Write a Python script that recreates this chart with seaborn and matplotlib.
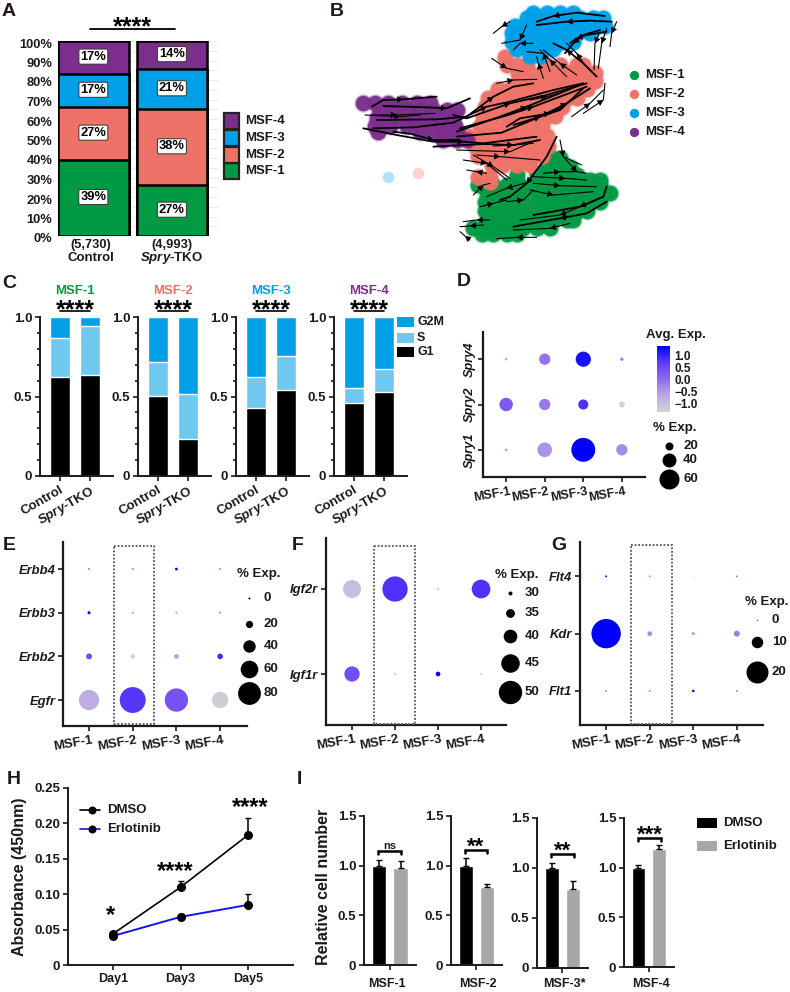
import matplotlib
matplotlib.use('Agg')
import matplotlib.pyplot as plt
import matplotlib.transforms as mtrans
from matplotlib.cm import ScalarMappable
from matplotlib.colors import LinearSegmentedColormap, Normalize
from matplotlib.patches import Rectangle
import numpy as np
import pandas as pd
import seaborn as sns

# ---- data ----
clusters = ['MSF-1', 'MSF-2', 'MSF-3', 'MSF-4']
groups = ['Control', 'Spry-TKO']

# A: composition, percent, bottom to top
comp_control = [39, 27, 17, 17]
comp_tko = [26, 39, 20.5, 14.5]
comp_label_control = ['39%', '27%', '17%', '17%']
comp_label_tko = ['27%', '38%', '21%', '14%']

# B: embedding, one row of points per y level
umap_green = {475: [695, 720], 500: [680, 720, 750], 525: [590, 650, 690, 730, 770], 540: [810, 840],
              555: [475, 520, 560, 600, 640, 680, 720, 760, 800, 840],
              578: [500, 530, 570, 610, 650, 690, 730, 770, 810, 850, 870],
              605: [495, 530, 570, 610, 650, 690, 730, 770, 810, 840],
              632: [495, 530, 570, 610, 650, 690, 730, 770, 800],
              660: [505, 540, 580, 620, 660, 700, 740, 760],
              683: [460, 490, 530, 570, 610, 650, 690],
              703: [485, 520, 560, 590]}
umap_red = {172: [555], 195: [560, 590, 620, 680, 720, 770, 790],
            218: [595, 630, 670, 710, 750, 790, 825],
            243: [595, 630, 670, 710, 750, 790, 825],
            268: [535, 570, 610, 650, 690, 730, 770, 800],
            293: [505, 540, 580, 620, 660, 700, 740, 770],
            320: [495, 530, 570, 610, 650, 690, 725],
            348: [490, 520, 560, 600, 640, 680, 705],
            378: [480, 520, 560, 600, 640, 665],
            408: [445, 480, 520, 560, 600, 640, 680],
            438: [465, 500, 540, 580, 620, 660, 685],
            468: [475, 510, 550, 590, 630, 665],
            495: [515, 550, 590, 630], 530: [475, 510], 545: [510]}
umap_blue = {38: [640, 680, 720, 760], 55: [620, 660, 700, 740, 780, 820, 850],
             78: [585, 630, 670, 710, 750, 790, 830, 855],
             100: [575, 610, 650, 690, 730, 770, 810],
             125: [575, 610, 650, 690, 730, 760],
             148: [590, 630, 670, 700], 168: [630, 660]}
umap_purple = {310: [128, 165, 205, 245, 290, 330],
               330: [180, 220, 260, 300, 340, 380, 410],
               355: [170, 200, 240, 280, 320, 360, 400],
               378: [165, 210, 260, 300, 340, 380, 405], 395: [175, 300, 340, 380, 410],
               420: [370, 410, 440]}
stray_x = [293, 205]
stray_y = [518, 532]

# velocity streamlines in embedding units, listed along the flow
streams = [
    [(855, 48), (770, 38), (700, 48), (650, 65)], [(875, 65), (810, 62), (740, 65), (650, 75)],
    [(890, 65), (875, 100), (870, 140)], [(860, 85), (845, 130), (835, 205)],
    [(840, 95), (825, 130), (822, 210)], [(860, 95), (800, 105), (770, 115), (750, 130)],
    [(840, 90), (790, 105), (760, 130), (735, 160)], [(830, 230), (790, 190), (740, 150), (700, 130)],
    [(795, 195), (770, 160), (740, 130)], [(770, 225), (720, 190), (670, 150)],
    [(740, 230), (690, 180), (660, 150)], [(670, 235), (655, 190), (650, 170)],
    [(690, 215), (670, 160), (620, 155)], [(620, 75), (600, 120), (545, 130)],
    [(570, 65), (545, 80), (520, 100)], [(640, 130), (600, 130), (580, 150)],
    [(515, 175), (560, 205), (610, 215)], [(530, 250), (580, 240), (650, 238)],
    [(155, 320), (190, 300), (250, 298), (350, 290)], [(190, 318), (320, 322), (380, 325), (450, 295)],
    [(155, 345), (230, 345), (345, 340)], [(135, 345), (240, 350), (300, 345)],
    [(170, 360), (350, 358), (440, 350), (520, 290), (580, 260), (640, 250)],
    [(160, 385), (280, 382), (400, 368), (500, 320), (570, 305), (700, 270), (790, 250)],
    [(220, 395), (275, 402), (340, 420), (420, 420)],
    [(130, 385), (230, 405), (340, 425), (430, 425), (490, 430), (650, 410)],
    [(340, 440), (490, 432), (580, 435), (660, 420)],
    [(400, 345), (440, 355), (570, 310), (680, 285), (800, 250)],
    [(410, 395), (540, 350), (620, 320), (780, 255)],
    [(410, 410), (545, 398), (660, 350), (720, 330), (790, 265)],
    [(420, 385), (565, 345), (640, 320), (800, 260)],
    [(560, 380), (600, 355), (690, 340), (730, 320)], [(580, 375), (660, 350), (740, 310), (810, 265)],
    [(630, 300), (680, 290), (720, 280)], [(410, 450), (570, 455), (650, 420)],
    [(470, 465), (540, 470), (660, 480)], [(430, 480), (500, 490), (560, 540)],
    [(460, 465), (520, 500), (570, 535)], [(520, 438), (580, 435), (640, 430)],
    [(755, 350), (810, 310), (850, 270)], [(790, 340), (850, 300), (855, 250)],
    [(710, 410), (680, 470), (620, 550), (570, 590), (540, 600)], [(720, 420), (730, 470), (785, 495)],
    [(730, 470), (770, 515), (800, 520)], [(670, 520), (720, 515), (770, 515)],
    [(640, 530), (735, 535), (800, 540)], [(640, 550), (720, 557), (830, 560)],
    [(630, 570), (700, 585), (820, 575)], [(860, 560), (850, 590), (780, 620), (640, 645)],
    [(860, 605), (800, 640), (720, 655), (580, 680)], [(830, 600), (720, 645), (600, 660)],
    [(750, 670), (690, 685), (580, 690)], [(650, 712), (590, 712), (530, 716)],
    [(510, 660), (470, 660), (430, 665)], [(490, 675), (450, 678), (420, 680)],
    [(450, 720), (435, 708), (420, 695)], [(500, 520), (470, 515), (440, 510)],
    [(460, 585), (490, 555), (510, 550)], [(480, 620), (520, 610), (560, 600)],
    [(630, 545), (560, 565), (500, 590)], [(560, 605), (610, 600), (640, 570)],
]

# C: cell cycle fractions per cluster
phase_g1 = [[0.62, 0.635], [0.505, 0.235], [0.425, 0.54], [0.46, 0.53]]
phase_s = [[0.245, 0.31], [0.215, 0.28], [0.195, 0.215], [0.095, 0.145]]
phase_g2m = [[0.135, 0.055], [0.28, 0.485], [0.38, 0.245], [0.445, 0.325]]

# D to G: % expressed and average expression, rows bottom to top
spry_genes = ['Spry1', 'Spry2', 'Spry4']
spry_pct = [[2, 42, 73, 31], [38, 31, 27, 13], [2, 31, 44, 4]]
spry_avg = [[-0.5, -0.45, 1.375, -0.35], [0.25, -0.15, 0.8, -1.375], [-0.6, -0.1, 1.2, -0.2]]
erbb_genes = ['Egfr', 'Erbb2', 'Erbb3', 'Erbb4']
erbb_pct = [[70, 92, 82, 55], [15, 10, 10, 14], [4, 1, 1, 1], [1, 1, 3, 1]]
erbb_avg = [[-0.75, 0.75, 0.35, -1.25], [0.45, -1.375, -0.55, 0.85],
            [1.375, -0.65, -0.65, -0.5], [-0.5, -0.4, 1.375, -0.6]]
igf_genes = ['Igf1r', 'Igf2r']
igf_pct = [[41.7, 28.6, 30.7, 27.6], [44.5, 52, 28.6, 45.2]]
igf_avg = [[0.4, -1.375, 1.375, -0.9], [-1.0, 0.8, -1.375, 0.8]]
vegf_genes = ['Flt1', 'Kdr', 'Flt4']
vegf_pct = [[1, 1, 1.5, 1], [27, 3.5, 2, 4.8], [1, 1, 0.3, 1]]
vegf_avg = [[-0.4, -0.4, 1.375, -0.4], [1.375, -0.35, -0.5, -0.2], [1.1, -0.5, -1.375, -0.3]]

# H: absorbance
days = ['Day1', 'Day3', 'Day5']
dmso_abs = [0.044, 0.11, 0.184]
dmso_abs_err = [0.003, 0.008, 0.023]
erlo_abs = [0.041, 0.068, 0.085]
erlo_abs_err = [0.002, 0.004, 0.015]

# I: relative cell number
dmso_rel = [1.0, 1.0, 1.0, 1.0]
dmso_rel_err = [0.06, 0.08, 0.05, 0.03]
erlo_rel = [0.975, 0.79, 0.79, 1.19]
erlo_rel_err = [0.07, 0.03, 0.08, 0.04]
rel_names = ['MSF-1', 'MSF-2', 'MSF-3*', 'MSF-4']
rel_marks = ['ns', '**', '**', '***']

# ---- style ----
GREEN, RED, BLUE, PURPLE = '#009944', '#EE7268', '#00A0E9', '#7B2E8C'
CYCLE_COLORS = ['#000000', '#6FC9EF', '#00A0E9']
GREY = '#A7A7AB'
INK = '#1A1A1A'
W, H = 790, 992

sns.set_theme(style='white')
plt.rcParams['font.family'] = ['Liberation Sans', 'DejaVu Sans']
plt.rcParams['font.weight'] = 'bold'
plt.rcParams['axes.labelweight'] = 'bold'
plt.rcParams['text.color'] = INK
plt.rcParams['axes.edgecolor'] = INK
plt.rcParams['xtick.color'] = INK
plt.rcParams['ytick.color'] = INK
plt.rcParams['mathtext.fontset'] = 'custom'
plt.rcParams['mathtext.it'] = 'Liberation Sans:italic:bold'
plt.rcParams['mathtext.rm'] = 'Liberation Sans:bold'

CMAP = LinearSegmentedColormap.from_list(
    'exp', ['#D3D3D3', '#BCA9E3', '#8F69EE', '#5F3BF8', '#0000FF'])
AVG_NORM = (-1.375, 1.375)

fig = plt.figure(figsize=(W / 100, H / 100), dpi=100)


def px_axes(left, top, right, bottom):
    return fig.add_axes([left / W, 1 - bottom / H, (right - left) / W, (bottom - top) / H])


def clean(ax, lw=1.4):
    sns.despine(ax=ax)
    for side in ['left', 'bottom']:
        ax.spines[side].set_linewidth(lw)
    ax.tick_params(length=3.5, width=1.2, bottom=True, left=True, pad=2)
    ax.set_xlabel('')
    ax.set_ylabel('')


# overlay in pixel units for letters, keys and annotations
over = fig.add_axes([0, 0, 1, 1], zorder=20)
over.set_xlim(0, W)
over.set_ylim(H, 0)
over.axis('off')
over.patch.set_alpha(0)

for letter, x, y in [('A', 2, 12), ('B', 330, 11), ('C', 2, 284), ('D', 457, 282), ('E', 3, 545),
                     ('F', 292, 545), ('G', 551, 545), ('H', 7, 780), ('I', 297, 780)]:
    over.text(x, y, letter, fontsize=14, va='center', ha='left', color='#231815')


def stars(x, y, s, size=15):
    over.text(x, y, s, fontsize=size, ha='center', va='center', color='black')


# ---- A ----
ax = px_axes(58, 41, 219, 236)
layers = [(3, PURPLE), (2, BLUE), (1, RED), (0, GREEN)]
for idx, col in layers:
    sns.barplot(x=groups, y=[sum(comp_control[:idx + 1]), sum(comp_tko[:idx + 1])], color=col,
                saturation=1, width=0.9, edgecolor='black', linewidth=1.8, ax=ax)
ax.set_xlim(-0.45, 1.6)
ax.set_ylim(0, 100)
ax.set_yticks(np.arange(0, 101, 10))
ax.set_yticklabels([f'{v}%' for v in range(0, 101, 10)], fontsize=9.3)
ax.set_yticks(np.arange(5, 100, 10), minor=True)
ax.grid(True, axis='y', which='both', color='#EDEDED', lw=0.8)
ax.set_axisbelow(True)
ax.tick_params(axis='both', which='both', length=0, pad=4)
ax.set_xticks([])
sns.despine(ax=ax, left=True, bottom=True)
for lab in ax.get_yticklabels():
    lab.set_transform(lab.get_transform() + mtrans.ScaledTranslation(0, -2 / 100, fig.dpi_scale_trans))
for pos, vals, labs in [(0, comp_control, comp_label_control), (1, comp_tko, comp_label_tko)]:
    base = 0
    for v, s in zip(vals, labs):
        ax.text(pos, base + v / 2 + 0.5, s, ha='center', va='center', fontsize=9.3, color='black',
                bbox=dict(boxstyle='round,pad=0.12', fc='white', ec='#333333', lw=0.7))
        base += v
over.plot([90, 175], [29, 29], color='black', lw=1.3)
stars(132, 27, '****', 18)
over.text(91, 245, '(5,730)', ha='center', va='center', fontsize=9.3)
over.text(91, 258, 'Control', ha='center', va='center', fontsize=9.5)
over.text(172, 245, '(4,993)', ha='center', va='center', fontsize=9.3)
over.text(172, 258, r'$\mathit{Spry}$-TKO', ha='center', va='center', fontsize=9.5)
for name, col, top in zip(clusters, [GREEN, RED, BLUE, PURPLE], [163, 147, 130, 113]):
    over.add_patch(Rectangle((224, top), 15, 15.5, fc=col, ec='#222222', lw=1.6))
    over.text(245, top + 8, name, va='center', fontsize=9.5)

# ---- B ----
ax = px_axes(320, 0, 660, 270)
for cloud, col in [(umap_green, GREEN), (umap_red, RED), (umap_blue, BLUE), (umap_purple, PURPLE)]:
    xs = [x for row in cloud.values() for x in row]
    ys = [y for y, row in cloud.items() for _ in row]
    sns.scatterplot(x=xs, y=ys, color=col, s=170, alpha=0.35, linewidth=0, ax=ax, legend=False)
    sns.scatterplot(x=xs, y=ys, color=col, s=125, alpha=0.95, linewidth=0, ax=ax, legend=False)
for x, y, col in zip(stray_x, stray_y, [RED, BLUE]):
    sns.scatterplot(x=[x], y=[y], color=col, s=70, alpha=0.3, linewidth=0, ax=ax, legend=False)
for line in streams:
    pts = np.array(line)
    ax.plot(pts[:, 0], pts[:, 1], color='black', lw=1.3 if len(pts) > 3 else 0.8,
            solid_capstyle='round', zorder=5)
    mid = len(pts) // 2
    ax.annotate('', xy=pts[mid], xytext=pts[mid - 1] * 0.1 + pts[mid] * 0.9, zorder=6,
                arrowprops=dict(arrowstyle='-|>,head_length=0.45,head_width=0.25', fc='black', ec='black',
                                lw=0.4, mutation_scale=8, shrinkA=0, shrinkB=0))
ax.set_xlim(0, 1020)
ax.set_ylim(810, 0)
ax.axis('off')
for name, col, y in zip(clusters, [GREEN, RED, BLUE, PURPLE], [75, 94, 113, 132]):
    over.scatter([634], [y], s=45, color=col, linewidth=0)
    over.text(645, y, name, va='center', fontsize=9.5)

# ---- C ----
c_lefts = [40, 138, 236, 334]
for i, left in enumerate(c_lefts):
    ax = px_axes(left, 317, left + 73, 476)
    g1, s, g2m = phase_g1[i], phase_s[i], phase_g2m[i]
    sns.barplot(x=groups, y=[g1[j] + s[j] + g2m[j] for j in range(2)], color=CYCLE_COLORS[2],
                saturation=1, width=2 / 3, ax=ax)
    sns.barplot(x=groups, y=[g1[j] + s[j] for j in range(2)], color=CYCLE_COLORS[1],
                saturation=1, width=2 / 3, ax=ax)
    sns.barplot(x=groups, y=g1, color=CYCLE_COLORS[0], saturation=1, width=2 / 3, ax=ax)
    ax.set_xlim(-2 / 3, 1.767)
    ax.set_ylim(0, 1)
    clean(ax)
    ax.set_yticks([0, 0.5, 1])
    ax.set_yticklabels(['0', '0.5', '1.0'], fontsize=9.5)
    ax.set_yticks(np.arange(0, 1.01, 0.1), minor=True)
    ax.tick_params(axis='y', which='minor', length=2.5, width=1.2, left=True)
    ax.set_xticks([0, 1])
    ax.set_xticklabels(['Control', r'$\mathit{Spry}$-TKO'], rotation=30, ha='right',
                       rotation_mode='anchor', fontsize=9.5)
    cx = left + 35
    over.text(cx, 291, clusters[i], ha='center', va='center', fontsize=9.5,
              color=[GREEN, RED, BLUE, PURPLE][i])
    over.plot([left + 20, left + 50], [311, 311], color='black', lw=1.2)
    stars(cx, 310, '****', 18)
for name, col, top in zip(['G2M', 'S', 'G1'], CYCLE_COLORS[::-1], [317, 333, 347]):
    over.add_patch(Rectangle((397, top), 17, 9.5, fc=col, ec='none'))
    over.text(417, top + 5, name, va='center', fontsize=9)


# ---- D, E, F, G ----
def dotplot(box, genes, pct, avg, d0, slope, xlim, ylim, fs=9.4, xfs=9.5):
    ax = px_axes(*box)
    rows = []
    for g, (p_row, a_row) in enumerate(zip(pct, avg)):
        for c, (p, a) in enumerate(zip(p_row, a_row)):
            rows.append({'cluster': c, 'gene': g, 'avg': a, 'area': ((d0 + slope * p) * 0.72) ** 2})
    df = pd.DataFrame(rows)
    sns.scatterplot(data=df, x='cluster', y='gene', hue='avg', size='area',
                    sizes=(df['area'].min(), df['area'].max()), palette=CMAP, hue_norm=AVG_NORM,
                    linewidth=0, legend=False, clip_on=False, ax=ax)
    ax.set_xlim(*xlim)
    ax.set_ylim(*ylim)
    clean(ax, 1.6)
    ax.set_xticks(range(4))
    ax.set_xticklabels(clusters, rotation=10, fontsize=xfs, ha='right', rotation_mode='anchor')
    for lab in ax.get_xticklabels():
        lab.set_transform(lab.get_transform() + mtrans.ScaledTranslation(3 / 100, -1 / 100, fig.dpi_scale_trans))
    ax.set_yticks(range(len(genes)))
    ax.set_yticklabels(genes, fontsize=fs, fontstyle='italic')
    return ax


def size_key(title, tx, ty, dx, lx, levels, ys, d0, slope, fs=9.5):
    over.text(tx, ty, title, ha='center', va='center', fontsize=fs)
    for level, y in zip(levels, ys):
        d = d0 + slope * level
        over.scatter([dx], [y], s=(d * 0.72) ** 2, color='black', linewidth=0)
        over.text(lx, y, str(level), va='center', ha='left', fontsize=fs)


def dotted_box(left, top, right, bottom):
    over.add_patch(Rectangle((left, top), right - left, bottom - top, fc='none', ec='#555555',
                             lw=1.3, ls=(0, (1, 1))))


ax = dotplot((483, 332, 645, 477), spry_genes, spry_pct, spry_avg, 2, 0.3, (-0.6, 3.6), (-0.6, 2.6),
             fs=9.2, xfs=9)
for lab in ax.get_yticklabels():
    lab.set_rotation(90)
    lab.set_va('center')
cax = px_axes(657, 346, 670, 412)
cb = fig.colorbar(ScalarMappable(Normalize(*AVG_NORM), CMAP), cax=cax)
cb.outline.set_visible(False)
cb.set_ticks([1.0, 0.5, 0.0, -0.5, -1.0])
cb.ax.tick_params(length=3, width=0.8, color='white', direction='in', labelsize=8.5, pad=3,
                  labelcolor=INK, left=True, right=True)
over.text(676, 335, 'Avg. Exp.', ha='center', va='center', fontsize=9.5)
size_key('% Exp.', 675, 428, 669, 683, [20, 40, 60], [446, 460, 479], 2, 0.3)

dotplot((63, 542, 247, 726), erbb_genes, erbb_pct, erbb_avg, 2, 0.26, (-0.595, 3.615), (-0.595, 3.62))
dotted_box(114, 546, 154, 724)
size_key('% Exp.', 259, 574, 249, 264, [0, 20, 40, 60, 80], [598, 624, 646, 669, 693], 2, 0.26)

dotplot((326, 538, 506, 725), igf_genes, igf_pct, igf_avg, 4 - 0.967 * 30, 0.967,
        (-0.605, 3.58), (-0.6, 1.6))
dotted_box(374, 546, 415, 724)
size_key('% Exp.', 517, 575, 510, 525, [30, 35, 40, 45, 50], [593, 613, 636, 663, 692],
         4 - 0.967 * 30, 0.967)

dotplot((580, 542, 763, 725), vegf_genes, vegf_pct, vegf_avg, 1, 1.05, (-0.6, 3.6), (-0.595, 2.6))
dotted_box(631, 545, 672, 724)
size_key('% Exp.', 767, 602, 757, 772, [0, 10, 20], [620, 642, 672], 1, 1.05)

# ---- H ----
ax = px_axes(68, 788, 293, 965)
xpos = [0, 1, 2]
ax.errorbar(xpos, dmso_abs, yerr=[[0] * 3, dmso_abs_err], fmt='none', ecolor='black', elinewidth=1.1, capsize=2.5)
ax.errorbar(xpos, erlo_abs, yerr=[[0] * 3, erlo_abs_err], fmt='none', ecolor='black', elinewidth=1.1, capsize=2.5)
sns.lineplot(x=xpos, y=dmso_abs, color='black', marker='o', markersize=6.5, markeredgewidth=0,
             lw=1.2, ax=ax, legend=False)
sns.lineplot(x=xpos, y=erlo_abs, color='#1414F0', marker='o', markersize=6.5, markeredgewidth=0,
             lw=1.4, ax=ax, legend=False, err_style=None)
ax.lines[-1].set_markerfacecolor('black')
ax.set_xlim(-0.665, 2.66)
ax.set_ylim(0, 0.25)
clean(ax)
ax.set_xticks(xpos)
ax.set_xticklabels(days, fontsize=9)
ax.set_yticks([0, 0.05, 0.10, 0.15, 0.20, 0.25])
ax.set_yticklabels(['0', '0.05', '0.10', '0.15', '0.20', '0.25'], fontsize=9.5)
over.text(20, 877, 'Absorbance (450nm)', rotation=90, ha='center', va='center', fontsize=11.5)
stars(110, 916, '*', 17)
stars(175, 872, '****', 17)
stars(250, 808, '****', 17)
for name, col, y in [('DMSO', 'black', 810), ('Erlotinib', '#1414F0', 829)]:
    over.plot([80, 100], [y, y], color=col, lw=1.2)
    over.scatter([92], [y], s=33, color='black', linewidth=0, zorder=5)
    over.text(107, y, name, va='center', fontsize=9.5)

# ---- I ----
i_boxes = [(364, 816, 416, 965), (451, 816, 502, 965), (537, 818, 588, 968), (624, 818, 674, 967)]
i_brackets = [(378, 401, 851), (465, 487, 850), (551, 574, 854), (638, 661, 838)]
i_names_x = [387, 478, 564, 651]
for i, box in enumerate(i_boxes):
    ax = px_axes(*box)
    vals = [dmso_rel[i], erlo_rel[i]]
    errs = [dmso_rel_err[i], erlo_rel_err[i]]
    sns.barplot(x=['DMSO', 'Erlotinib'], y=vals, hue=['DMSO', 'Erlotinib'],
                palette=['black', GREY], saturation=1, width=0.674, legend=False, ax=ax)
    ax.errorbar([0, 1], vals, yerr=[[0, 0], errs], fmt='none', elinewidth=1.1, capsize=2.5,
                ecolor='black')
    ax.set_xlim(-0.7, 1.72)
    ax.set_ylim(0, 1.5)
    clean(ax)
    ax.set_xticks([0.5])
    ax.set_xticklabels([''])
    ax.set_yticks([0, 0.5, 1.0, 1.5])
    ax.set_yticklabels(['0', '0.5', '1.0', '1.5'], fontsize=9.5)
    over.text(i_names_x[i], 984, rel_names[i], ha='center', va='center', fontsize=9)
    x0, x1, y = i_brackets[i]
    over.plot([x0, x0, x1, x1], [y + 3, y, y, y + 3], color='black', lw=1.8, solid_joinstyle='miter')
    if rel_marks[i] == 'ns':
        over.text((x0 + x1) / 2, y - 5, 'ns', ha='center', va='center', fontsize=8)
    else:
        stars((x0 + x1) / 2, y - 3, rel_marks[i], 16)
over.text(324, 887, 'Relative cell number', rotation=90, ha='center', va='center', fontsize=11.5)
for name, col, top in [('DMSO', 'black', 818), ('Erlotinib', GREY, 841)]:
    over.add_patch(Rectangle((697, top), 20, 10, fc=col, ec='none'))
    over.text(723, top + 5, name, va='center', fontsize=9.5)

fig.savefig('out.png', dpi=100)
